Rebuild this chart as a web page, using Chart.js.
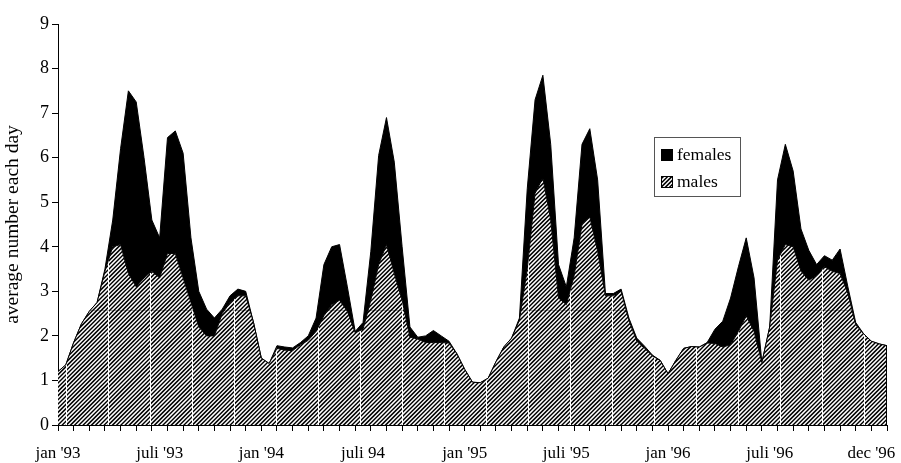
<!DOCTYPE html>
<html>
<head>
<meta charset="utf-8">
<script src="https://cdn.jsdelivr.net/npm/chart.js@4/dist/chart.umd.min.js"></script>
<style>
html,body{margin:0;padding:0;background:#fff;}
canvas{display:block;}
</style>
</head>
<body>
<canvas id="c" width="901" height="463"></canvas>
<script>
// fortnightly values, jan '93 .. dec '96
const males = [
  1.2, 1.35, 1.85, 2.27, 2.55, 2.75, 3.45, 4.0, 4.05, 3.4,
  3.1, 3.3, 3.45, 3.3, 3.85, 3.85, 3.3, 2.75, 2.2, 2.0,
  2.0, 2.5, 2.75, 2.9, 2.9, 2.3, 1.5, 1.38, 1.72, 1.68,
  1.67, 1.8, 1.9, 2.1, 2.45, 2.7, 2.8, 2.55, 2.07, 2.15,
  2.8, 3.6, 4.05, 3.4, 2.8, 1.97, 1.93, 1.85, 1.85, 1.85,
  1.84, 1.6, 1.25, 0.96, 0.95, 1.05, 1.42, 1.75, 1.95, 2.35,
  3.5, 5.2, 5.55, 4.6, 2.85, 2.7, 3.35, 4.5, 4.67, 3.9,
  2.9, 2.9, 3.0, 2.35, 1.88, 1.72, 1.55, 1.45, 1.15, 1.45,
  1.72, 1.76, 1.75, 1.84, 1.83, 1.75, 1.8, 2.1, 2.45, 2.1,
  1.4, 2.2, 3.7, 4.05, 4.0, 3.45, 3.25, 3.35, 3.55, 3.45,
  3.4, 2.95, 2.25, 2.05, 1.88, 1.82, 1.78
];
const females = [
  0, 0, 0, 0, 0, 0, 0.05, 0.6, 2.15, 4.1,
  4.15, 2.7, 1.15, 0.9, 2.6, 2.75, 2.8, 1.45, 0.8, 0.6,
  0.4, 0.1, 0.15, 0.15, 0.1, 0, 0, 0, 0.06, 0.07,
  0.06, 0.05, 0.1, 0.3, 1.15, 1.3, 1.25, 0.55, 0.03, 0.15,
  1.1, 2.45, 2.85, 2.5, 1.2, 0.23, 0.04, 0.15, 0.27, 0.15,
  0.04, 0, 0, 0, 0, 0, 0, 0, 0, 0.05,
  1.8, 2.1, 2.3, 1.7, 0.75, 0.4, 0.85, 1.8, 1.98, 1.6,
  0.05, 0.05, 0.05, 0.05, 0.07, 0.05, 0.02, 0, 0, 0,
  0, 0, 0, 0.01, 0.32, 0.58, 1.05, 1.45, 1.75, 1.2,
  0, 0, 1.8, 2.25, 1.7, 0.95, 0.67, 0.25, 0.25, 0.25,
  0.55, 0.15, 0.05, 0, 0, 0, 0
];
const categories = males.map((_, i) => i);
const labelIndex = [0, 13, 26, 39, 52, 65, 78, 91, 104];
const labelText = ["jan '93", "juli '93", "jan '94", "juli 94", "jan '95", "juli '95", "jan '96", "juli '96", "dec '96"];
const seriesNames = ["females", "males"];
const yTitle = "average number each day";

const FONT = "'Liberation Serif', 'Times New Roman', serif";

function makeHatch(ctx) {
  const W = 42, H = 462, p = 4.2;
  const c = document.createElement('canvas');
  c.width = W; c.height = H;
  const g = c.getContext('2d');
  g.fillStyle = '#fff'; g.fillRect(0, 0, W, H);
  g.strokeStyle = '#000'; g.lineWidth = 1.5;
  g.beginPath();
  for (let k = 0; k * p <= W + H + 2 * p; k++) {
    const s = k * p;
    g.moveTo(s + 2, -2); g.lineTo(s - H - 2, H + 2);
  }
  g.stroke();
  g.fillStyle = '#fff'; g.fillRect(24, 0, 1, H);
  g.fillStyle = 'rgba(0,0,0,0.3)'; g.fillRect(0, 310, W, 1);
  return ctx.createPattern(c, 'repeat');
}

const canvas = document.getElementById('c');
const ctx0 = canvas.getContext('2d');
const hatch = makeHatch(ctx0);

// closes the right end of the stacked area with a vertical edge
const edgeLine = {
  id: 'edgeLine',
  afterDatasetsDraw(chart) {
    const meta = chart.getDatasetMeta(1);
    const pts = meta.data;
    if (!pts.length) return;
    const last = pts[pts.length - 1];
    const ctx = chart.ctx;
    ctx.save();
    ctx.strokeStyle = '#000';
    ctx.lineWidth = 1;
    ctx.beginPath();
    ctx.moveTo(Math.round(last.x) - 0.5, last.y);
    ctx.lineTo(Math.round(last.x) - 0.5, chart.chartArea.bottom);
    ctx.stroke();
    ctx.restore();
  }
};

const boxLegend = {
  id: 'boxLegend',
  afterDraw(chart) {
    const ctx = chart.ctx;
    ctx.save();
    ctx.fillStyle = '#fff';
    ctx.fillRect(654, 137, 86, 59);
    ctx.strokeStyle = '#555';
    ctx.lineWidth = 1;
    ctx.strokeRect(654.5, 137.5, 86, 59);
    ctx.fillStyle = '#000';
    ctx.fillRect(661, 149, 12, 12);
    ctx.fillStyle = hatch;
    ctx.fillRect(661, 176, 12, 12);
    ctx.strokeStyle = '#000';
    ctx.strokeRect(661.5, 176.5, 11, 11);
    ctx.fillStyle = '#000';
    ctx.font = "17.5px " + FONT;
    ctx.textBaseline = 'middle';
    ctx.textAlign = 'left';
    ctx.fillText(seriesNames[0], 677, 155);
    ctx.fillText(seriesNames[1], 677, 182);
    ctx.restore();
  }
};

Chart.defaults.font.family = FONT;
Chart.defaults.color = '#000';

new Chart(canvas, {
  type: 'line',
  data: {
    labels: categories,
    datasets: [
      {
        label: seriesNames[1],
        data: males,
        borderColor: '#000',
        borderWidth: 1,
        backgroundColor: hatch,
        fill: 'origin',
        pointRadius: 0,
        tension: 0
      },
      {
        label: seriesNames[0],
        data: females,
        borderColor: '#000',
        borderWidth: 1,
        backgroundColor: '#000',
        fill: '-1',
        pointRadius: 0,
        tension: 0
      }
    ]
  },
  options: {
    responsive: false,
    animation: false,
    devicePixelRatio: 1,
    layout: { padding: { left: 0, right: 14, top: 24, bottom: 0 } },
    plugins: {
      legend: { display: false },
      tooltip: { enabled: false }
    },
    scales: {
      x: {
        type: 'category',
        offset: false,
        afterBuildTicks: (scale) => {
          scale.ticks = scale.ticks.filter(t => t.value % 2 === 0 || labelIndex.includes(t.value));
        },
        afterFit: (scale) => { scale.height = 38; },
        grid: {
          drawOnChartArea: false,
          drawTicks: true,
          tickLength: 6,
          tickColor: (c) => (c.tick && c.tick.value % 2 === 1) ? 'rgba(0,0,0,0)' : '#000'
        },
        border: { color: '#000', width: 1 },
        ticks: {
          autoSkip: false,
          maxRotation: 0,
          minRotation: 0,
          padding: 12,
          font: { size: 17, family: FONT },
          color: '#000',
          callback: (value) => {
            const k = labelIndex.indexOf(value);
            return k >= 0 ? labelText[k] : '';
          }
        }
      },
      y: {
        stacked: true,
        min: 0,
        max: 9,
        afterFit: (scale) => { scale.width = 58; },
        grid: {
          drawOnChartArea: false,
          drawTicks: true,
          tickLength: 6,
          tickColor: '#000'
        },
        border: { color: '#000', width: 1 },
        ticks: {
          stepSize: 1,
          padding: 3,
          font: { size: 18, family: FONT },
          color: '#000'
        },
        title: {
          display: true,
          text: yTitle,
          font: { size: 19.5, family: FONT },
          color: '#000',
          padding: { top: 1, bottom: 0 }
        }
      }
    }
  },
  plugins: [edgeLine, boxLegend]
});
</script>
</body>
</html>
